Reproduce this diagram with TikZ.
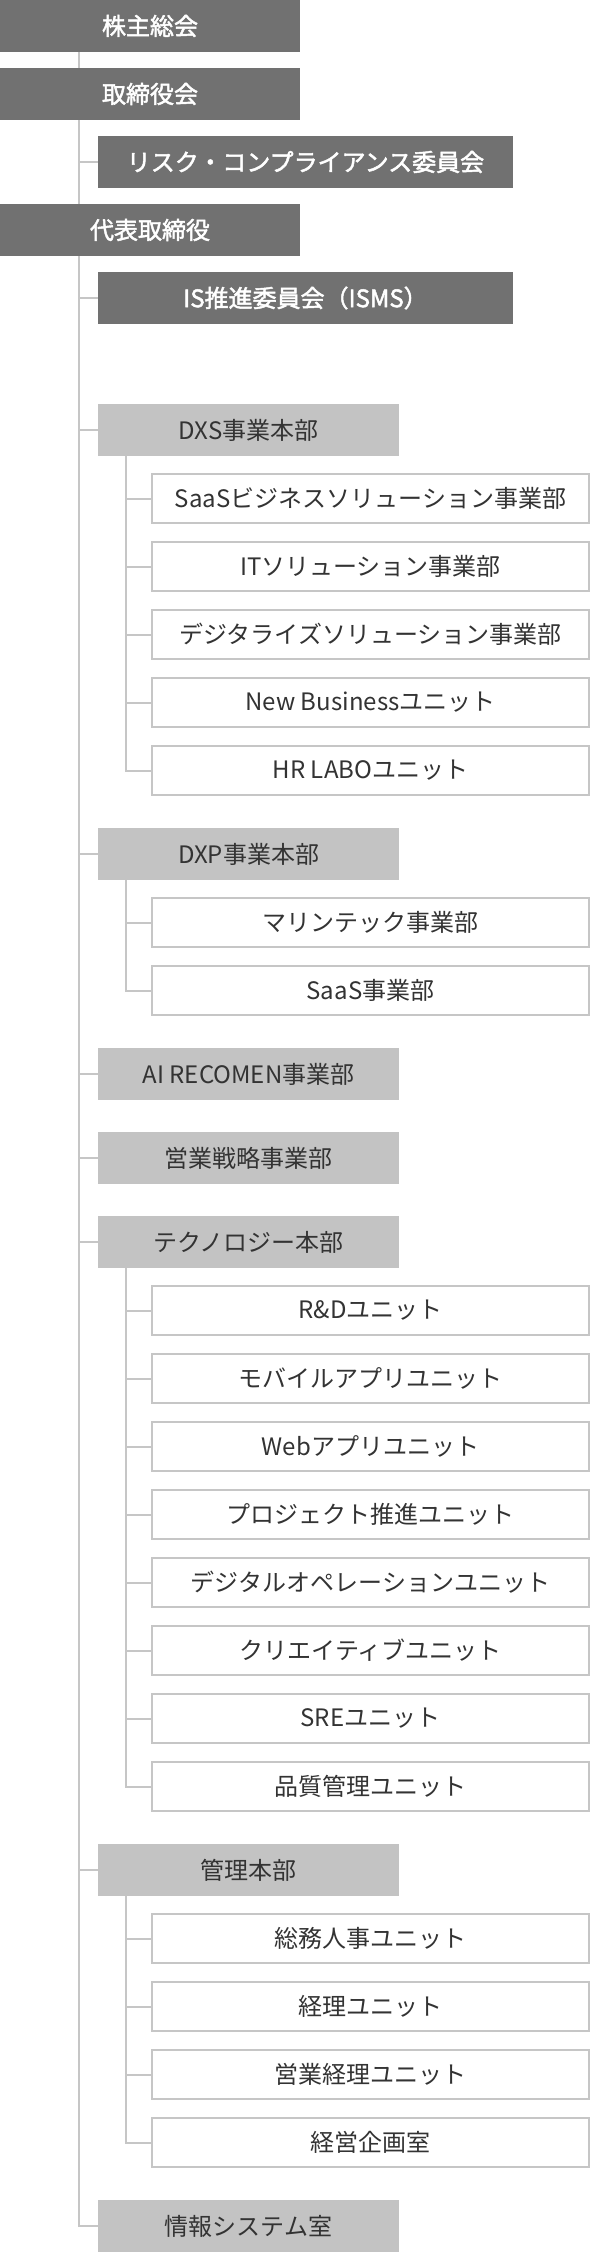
\documentclass[tikz,border=0pt]{standalone}
\usepackage{fontspec}
\setmainfont{Noto Sans CJK JP}
\newfontfamily\medfont[FakeBold=2]{Noto Sans CJK JP}
\usetikzlibrary{backgrounds}
\definecolor{darkbox}{HTML}{717171}
\definecolor{lightbox}{HTML}{C3C3C3}
\definecolor{linec}{HTML}{C6C6C6}
\definecolor{txt}{HTML}{333333}
\begin{document}
\begin{tikzpicture}[x=1pt,y=-1pt,
  base/.style={rectangle,inner sep=0pt,outer sep=0pt,anchor=north west,
    font=\fontsize{24}{28}\selectfont},
  topbox/.style={base,fill=darkbox,text=white,font=\fontsize{24}{28}\selectfont\medfont,
    minimum width=300pt,minimum height=52pt},
  midbox/.style={topbox,minimum width=415pt},
  grpbox/.style={base,fill=lightbox,text=txt,minimum width=301pt,minimum height=52pt},
  unitbox/.style={base,draw=linec,line width=2pt,fill=white,text=txt,
    minimum width=437pt,minimum height=49pt},
  conn/.style={draw=linec,line width=2pt}]
\useasboundingbox (0,0) rectangle (590,2252);
\coordinate (sp) at (79,0);
\coordinate (sb) at (126,0);
% top level
\node[topbox] (a1) at (0,0) {株主総会};
\node[topbox] (a2) at (0,68) {取締役会};
\node[midbox] (a3) at (98,136) {リスク・コンプライアンス委員会};
\node[topbox] (a4) at (0,204) {代表取締役};
\node[midbox] (a5) at (98,272) {IS推進委員会（ISMS）};
% DXS
\node[grpbox] (dxs) at (98,404) {DXS事業本部};
\node[unitbox] (dxs1) at (152,474) {SaaSビジネスソリューション事業部};
\node[unitbox] (dxs2) at (152,542) {ITソリューション事業部};
\node[unitbox] (dxs3) at (152,610) {デジタライズソリューション事業部};
\node[unitbox] (dxs4) at (152,678) {New Businessユニット};
\node[unitbox] (dxs5) at (152,746) {HR LABOユニット};
% DXP
\node[grpbox] (dxp) at (98,828) {DXP事業本部};
\node[unitbox] (dxp1) at (152,898) {マリンテック事業部};
\node[unitbox] (dxp2) at (152,966) {SaaS事業部};
% single
\node[grpbox] (ai) at (98,1048) {AI RECOMEN事業部};
\node[grpbox] (eigyo) at (98,1132) {営業戦略事業部};
% tech
\node[grpbox] (tech) at (98,1216) {テクノロジー本部};
\node[unitbox] (tech1) at (152,1286) {R\&Dユニット};
\node[unitbox] (tech2) at (152,1354) {モバイルアプリユニット};
\node[unitbox] (tech3) at (152,1422) {Webアプリユニット};
\node[unitbox] (tech4) at (152,1490) {プロジェクト推進ユニット};
\node[unitbox] (tech5) at (152,1558) {デジタルオペレーションユニット};
\node[unitbox] (tech6) at (152,1626) {クリエイティブユニット};
\node[unitbox] (tech7) at (152,1694) {SREユニット};
\node[unitbox] (tech8) at (152,1762) {品質管理ユニット};
% kanri
\node[grpbox] (kanri) at (98,1844) {管理本部};
\node[unitbox] (kanri1) at (152,1914) {総務人事ユニット};
\node[unitbox] (kanri2) at (152,1982) {経理ユニット};
\node[unitbox] (kanri3) at (152,2050) {営業経理ユニット};
\node[unitbox] (kanri4) at (152,2118) {経営企画室};
\node[grpbox] (info) at (98,2200) {情報システム室};
% connectors
\begin{scope}[on background layer]
\draw[conn] (a1.south -| sp) |- (info.west);
\foreach \n in {a3,a5,dxs,dxp,ai,eigyo,tech,kanri}
  \draw[conn] (\n.west -| sp) -- (\n.west);
\draw[conn] (dxs.south -| sb) |- (dxs5.west);
\foreach \n in {dxs1,dxs2,dxs3,dxs4}
  \draw[conn] (\n.west -| sb) -- (\n.west);
\draw[conn] (dxp.south -| sb) |- (dxp2.west);
\draw[conn] (dxp1.west -| sb) -- (dxp1.west);
\draw[conn] (tech.south -| sb) |- (tech8.west);
\foreach \n in {tech1,tech2,tech3,tech4,tech5,tech6,tech7}
  \draw[conn] (\n.west -| sb) -- (\n.west);
\draw[conn] (kanri.south -| sb) |- (kanri4.west);
\foreach \n in {kanri1,kanri2,kanri3}
  \draw[conn] (\n.west -| sb) -- (\n.west);
\end{scope}
\end{tikzpicture}
\end{document}
